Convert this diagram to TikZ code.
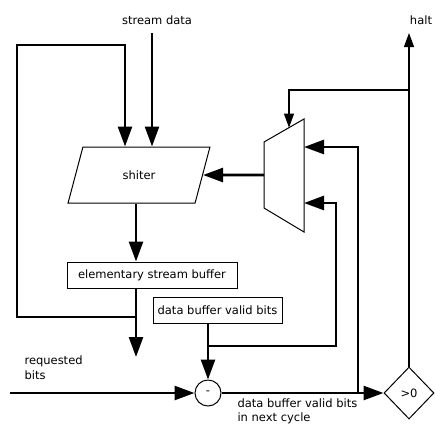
\documentclass[tikz,border=0pt]{standalone}
\usepackage{fontspec}
\setmainfont{DejaVu Sans}
\usetikzlibrary{arrows.meta, positioning, shapes.geometric}

\begin{document}
\begin{tikzpicture}[x=1pt, y=-1pt, font=\fontsize{11.5}{15}\selectfont,
  bus/.style={line width=2.6pt, -{Triangle[length=20pt, width=14pt]}},
  ctrl/.style={line width=1.3pt, -{Triangle[length=14pt, width=10pt]}},
  block/.style={draw, line width=1pt, minimum height=26pt, inner sep=0pt}]
  \useasboundingbox (0,0) rectangle (435,424);

  % Bloky
  \node[draw, line width=1pt, trapezium, trapezium stretches=true,
        trapezium left angle=64, trapezium right angle=116,
        minimum width=142pt, minimum height=56pt, inner sep=0pt] (shifter) at (139,175) {shiter};
  \node[block, minimum width=170pt] (esb) at (152,275) {elementary stream buffer};
  \node[block, minimum width=129pt] (dbv) at (217.5,310) {data buffer valid bits};
  \node[draw, line width=1pt, circle, minimum size=26pt, inner sep=0pt] (circ) at (208,393) {-};
  \node[draw, line width=1pt, diamond, minimum width=50pt, minimum height=52pt, inner sep=0pt] (gt) at (409,393) {>0};

  % Multiplexor
  \draw[line width=1pt] (264,142) -- (304,119) -- (304,232) -- (264,208) -- cycle;
  \coordinate (muxin1) at (304,147);
  \coordinate (muxin2) at (304,203);
  \coordinate (muxout) at (264,175);
  \coordinate (muxsel) at (289,127.6);

  % Popisky
  \node (sdlabel) at (157,20) {stream data};
  \node (haltlabel) at (421,20) {halt};
  \node[anchor=west, align=left] (reqlabel) at (21,368) {requested\\bits};
  \node[anchor=north west, align=left, font=\fontsize{11.5}{14.5}\selectfont] (nextlabel) at (234,395) {data buffer valid bits\\in next cycle};

  % Volne konce
  \coordinate (sd) at (152,33);
  \coordinate (loopleft) at (17,45);
  \coordinate (esbjoin) at (136,317);
  \coordinate (reqtip) at (136,357);
  \coordinate (reqin) at (10,393);
  \coordinate (fb2) at (208,346);
  \coordinate (fb1) at (358,393);
  \coordinate (haltend) at (409,33);
  \coordinate (haltsplit) at (409,90);

  % Datove cesty
  \draw[bus] (sd) -- (sd |- shifter.north);
  \draw[bus] (esbjoin) -| (loopleft) -| ([xshift=-14pt]shifter.north);
  \draw[bus] ([xshift=-3pt]shifter.south) -- ([xshift=-3pt]shifter.south |- esb.north);
  \draw[bus] (esb.south -| reqtip) -- (reqtip);
  \draw[bus] (reqin) -- (circ.west);
  \draw[bus] (dbv.south -| circ) -- (circ.north);
  \draw[bus] (fb2) -| ([xshift=32pt]muxin2) -- (muxin2);
  \draw[bus] (circ.east) -- (gt.west);
  \draw[bus] (fb1) |- (muxin1);
  \draw[bus] (muxout) -- (shifter.east);

  % Rizeni
  \draw[ctrl] (gt.north) -- (haltend);
  \draw[ctrl] (haltsplit) -| (muxsel);
\end{tikzpicture}
\end{document}
